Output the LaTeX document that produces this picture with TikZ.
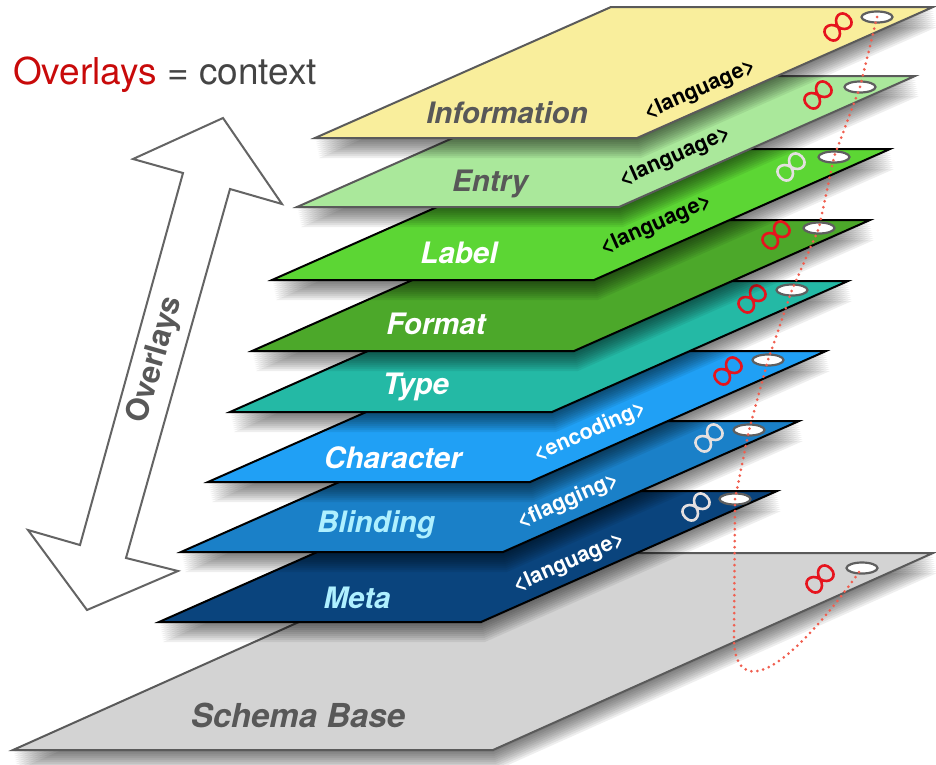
\documentclass[tikz,border=0pt]{standalone}
\usepackage{fontspec}
\setmainfont{TeX Gyre Heros}
\usetikzlibrary{shapes.geometric}
\definecolor{titleRed}{RGB}{200,10,10}
\definecolor{titleGray}{RGB}{68,68,68}
\definecolor{arrowGray}{RGB}{100,100,100}
\definecolor{borderGray}{RGB}{90,90,90}
\definecolor{nameGray}{RGB}{88,88,88}
\definecolor{paleCyan}{RGB}{175,240,255}
\definecolor{paleLoop}{RGB}{228,224,224}
\definecolor{loopRed}{RGB}{230,20,30}
\definecolor{threadRed}{RGB}{240,95,80}
\definecolor{holeGray}{RGB}{95,95,95}
\definecolor{infoYellow}{RGB}{249,238,156}
\definecolor{entryGreen}{RGB}{170,232,155}
\definecolor{labelGreen}{RGB}{92,214,52}
\definecolor{formatGreen}{RGB}{76,168,42}
\definecolor{typeTeal}{RGB}{36,185,165}
\definecolor{charBlue}{RGB}{32,160,245}
\definecolor{blindBlue}{RGB}{26,128,200}
\definecolor{metaBlue}{RGB}{10,68,125}
\definecolor{baseGray}{RGB}{211,211,211}
\tikzstyle{layerStyle} = [line width=2pt, line join=miter]
\tikzstyle{layerShadowStyle} = [black, opacity=0.065]
\tikzstyle{layerText} = [font=\fontsize{29.5}{29.5}\selectfont\bfseries\itshape, inner sep=0pt]
\tikzstyle{tagText} = [font=\fontsize{21.5}{21.5}\selectfont\bfseries, rotate=24, inner sep=0pt]
\tikzstyle{holeStyle} = [ellipse, draw=holeGray, fill=white, line width=2.2pt, minimum width=31pt, minimum height=11pt, inner sep=0pt]
\tikzstyle{loopStyle} = [line width=2.6pt]
\tikzstyle{threadStyle} = [color=threadRed, line width=3pt, line cap=round, dash pattern=on 0pt off 6pt]
\tikzstyle{overlayArrow} = [draw=arrowGray, fill=white, line width=2pt, line join=miter]
\tikzstyle{titleText} = [font=\fontsize{37}{37}\selectfont, text=titleGray, inner sep=0pt]
\tikzstyle{arrowText} = [font=\fontsize{31}{31}\selectfont\bfseries, text=nameGray, inner sep=0pt]
\newcommand{\layerPlane}[7]{
  \foreach \s in {2,4,...,20} {
    \fill [layerShadowStyle] (#1 + 0.2*\s, #2 + \s) -- + (#3,0) -- + (#3 + #4, -#5) -- + (#4, -#5) -- cycle;
  }
  \filldraw [layerStyle, fill=#6, draw=#7] (#1,#2) -- + (#3,0) -- + (#3 + #4, -#5) -- + (#4, -#5) -- cycle;
}
\newcommand{\layerMarks}[6]{
  \coordinate (#1Loop) at (#3,#4);
  \draw [loopStyle, draw=#2, shift={(#1Loop)}, rotate=45]
    (0,0) .. controls (2.5,11) and (15,11) .. (15,0) .. controls (15,-11) and (2.5,-11) .. (0,0)
    .. controls (-2.5,11) and (-15,11) .. (-15,0) .. controls (-15,-11) and (-2.5,-11) .. (0,0) -- cycle;
  \node [holeStyle] (#1Hole) at (#5,#6) {};
}

\begin{document}
\begin{tikzpicture}[x=1pt, y=-1pt]
  \useasboundingbox (0,0) rectangle (936,764);
  \node [titleText, anchor=base west] (title) at (13,84) {\textcolor{titleRed}{Overlays} = context};
  \filldraw [overlayArrow] (223,118) -- (282,204) -- (230,189) -- (126,558) -- (178,571) -- (87,610)
    -- (28,530) -- (80,545) -- (183,173) -- (133,159) -- cycle;
  \node [arrowText, rotate=74] (arrowName) at (156,360) {Overlays};

  \layerPlane{13}{750}{480}{440}{197}{baseGray}{borderGray}
  \node [layerText, text=nameGray, font=\fontsize{33}{33}\selectfont\bfseries\itshape] (baseName) at (298,715) {Schema Base};
  \layerMarks{base}{loopRed}{820}{579}{862}{568}

  \layerPlane{159}{622}{322}{296}{131}{metaBlue}{black}
  \node [layerText, text=paleCyan] (metaName) at (357,598) {Meta};
  \node [tagText, text=white] (metaTag) at (569,563) {<language>};
  \layerMarks{meta}{paleLoop}{696}{507}{735}{499}

  \layerPlane{181}{552}{322}{296}{131}{blindBlue}{black}
  \node [layerText, text=paleCyan] (blindName) at (376,525) {Blinding};
  \node [tagText, text=white] (blindTag) at (568,501) {<flagging>};
  \layerMarks{blind}{paleLoop}{709}{438}{749}{430}

  \layerPlane{208}{482}{322}{296}{131}{charBlue}{black}
  \node [layerText, text=white] (charName) at (393,458) {Character};
  \node [tagText, text=white] (charTag) at (590,432) {<encoding>};
  \layerMarks{char}{loopRed}{728}{371}{768}{360}

  \layerPlane{230}{412}{322}{296}{131}{typeTeal}{black}
  \node [layerText, text=white] (typeName) at (416,387) {Type};
  \layerMarks{type}{loopRed}{752}{299}{792}{290}

  \layerPlane{252}{351}{322}{296}{131}{formatGreen}{black}
  \node [layerText, text=white] (formatName) at (436,324) {Format};
  \layerMarks{format}{loopRed}{776}{235}{819}{228}

  \layerPlane{272}{280}{322}{296}{131}{labelGreen}{black}
  \node [layerText, text=white] (labelName) at (459,253) {Label};
  \node [tagText, text=black] (labelTag) at (656,225) {<language>};
  \layerMarks{label}{paleLoop}{791}{167}{834}{157}

  \layerPlane{297}{207}{322}{296}{131}{entryGreen}{borderGray}
  \node [layerText, text=nameGray] (entryName) at (490,184) {Entry};
  \node [tagText, text=black] (entryTag) at (675,157) {<language>};
  \layerMarks{entry}{loopRed}{818}{95}{860}{87}

  \layerPlane{315}{138}{322}{296}{131}{infoYellow}{borderGray}
  \node [layerText, text=nameGray] (infoName) at (507,113) {Information};
  \node [tagText, text=black] (infoTag) at (700,90) {<language>};
  \layerMarks{info}{loopRed}{838}{27}{877}{17}

  \coordinate (loopStart) at (734,640);
  \draw [threadStyle] (infoHole.center) -- (entryHole.center) -- (labelHole.center) -- (formatHole.center)
    -- (typeHole.center) -- (charHole.center) -- (blindHole.center) -- (metaHole.center) -- (loopStart)
    .. controls (735,690) and (775,690) .. (baseHole.center);
\end{tikzpicture}
\end{document}
